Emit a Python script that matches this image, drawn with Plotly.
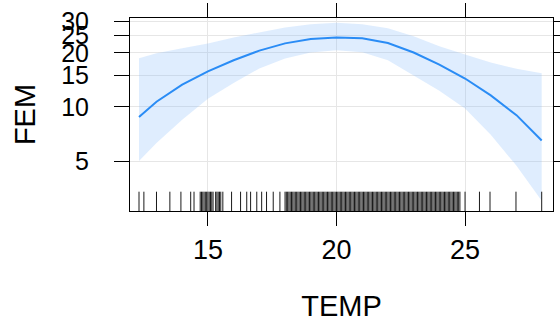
import plotly.graph_objects as go

# Effect curve (TEMP vs fitted FEM) with confidence band
temp = [12.32, 13, 14, 15, 16, 17, 18, 19, 20, 21, 22, 23, 24, 25, 26, 27, 27.98]
fit = [8.8, 10.7, 13.3, 15.8, 18.2, 20.6, 22.6, 23.9, 24.4, 24.1, 22.7, 20.1, 17.2, 14.4, 11.6, 9.0, 6.5]
lower = [5.0, 6.3, 8.5, 11.1, 13.6, 16.4, 18.6, 20.1, 20.7, 20.2, 18.2, 15.0, 12.3, 9.8, 7.0, 4.7, 3.0]
upper = [18.7, 19.9, 21.2, 22.6, 24.4, 26.1, 27.7, 28.9, 29.4, 28.9, 27.4, 24.8, 21.8, 19.6, 17.7, 16.3, 15.4]

# Observed TEMP values (rug)
rug_temp = [
    12.32, 12.51, 13.0, 13.52, 13.95, 14.33, 14.46,
    14.7, 14.75, 14.8, 14.85, 14.9, 14.95, 15.0, 15.05, 15.1, 15.15, 15.2, 15.3, 15.35, 15.4, 15.45, 15.5, 15.58,
    15.92, 16.27, 16.51, 16.66, 16.9, 17.09, 17.28, 17.54, 17.8,
    18.0, 18.05, 18.1, 18.15, 18.2, 18.25, 18.3, 18.35, 18.4, 18.45, 18.5, 18.55, 18.6, 18.65, 18.7, 18.75,
    18.8, 18.85, 18.9, 18.95, 19.0, 19.05, 19.1, 19.15, 19.2, 19.25, 19.3, 19.35, 19.4, 19.45, 19.5, 19.55,
    19.6, 19.65, 19.7, 19.75, 19.8, 19.85, 19.9, 19.95, 20.0, 20.05, 20.1, 20.15, 20.2, 20.25, 20.3, 20.35,
    20.4, 20.45, 20.5, 20.55, 20.6, 20.65, 20.7, 20.75, 20.8, 20.85, 20.9, 20.95, 21.0, 21.05, 21.1, 21.15,
    21.2, 21.25, 21.3, 21.35, 21.4, 21.45, 21.5, 21.55, 21.6, 21.65, 21.7, 21.75, 21.8, 21.85, 21.9, 21.95,
    22.0, 22.05, 22.1, 22.15, 22.2, 22.25, 22.3, 22.35, 22.4, 22.45, 22.5, 22.55, 22.6, 22.65, 22.7, 22.75,
    22.8, 22.85, 22.9, 22.95, 23.0, 23.05, 23.1, 23.15, 23.2, 23.25, 23.3, 23.35, 23.4, 23.45, 23.5, 23.55,
    23.6, 23.65, 23.7, 23.75, 23.8, 23.85, 23.9, 23.95, 24.0, 24.05, 24.1, 24.15, 24.2, 24.25, 24.3, 24.35,
    24.4, 24.45, 24.5, 24.55, 24.6, 24.65, 24.7, 24.75, 24.8,
    25.0, 25.56, 25.97, 26.98, 27.98,
]

x_ticks = [15, 20, 25]
y_ticks = [5, 10, 15, 20, 25, 30]

FONT = "Arial, Liberation Sans, sans-serif"
LINE_BLUE = "#2a8cf5"
BAND_BLUE = "rgba(130,185,250,0.26)"

fig = go.Figure()

# confidence band
fig.add_trace(go.Scatter(
    x=temp + temp[::-1], y=upper + lower[::-1],
    fill="toself", fillcolor=BAND_BLUE, line=dict(width=0),
    hoverinfo="skip", showlegend=False,
))
# fitted curve
fig.add_trace(go.Scatter(
    x=temp, y=fit, mode="lines",
    line=dict(color=LINE_BLUE, width=2),
    showlegend=False,
))
# rug
rx, ry = [], []
for t in rug_temp:
    rx += [t, t, None]
    ry += [0, 0.1, None]
fig.add_trace(go.Scatter(
    x=rx, y=ry, mode="lines", yaxis="y2",
    line=dict(color="#1a1a1a", width=1), hoverinfo="skip", showlegend=False,
))

fig.update_layout(
    width=560, height=322,
    margin=dict(l=130, r=7, t=18, b=111, autoexpand=False),
    paper_bgcolor="white", plot_bgcolor="white",
    font=dict(family=FONT, color="black"),
    xaxis=dict(
        range=[11.97, 28.42], tickvals=x_ticks, ticktext=[str(v) for v in x_ticks],
        ticks="outside", ticklen=14, tickwidth=1, tickcolor="black",
        showline=True, linecolor="black", linewidth=1, mirror="ticks",
        showgrid=True, gridcolor="#e6e6e6", gridwidth=1, zeroline=False,
        tickfont=dict(size=27, family=FONT), ticklabelstandoff=1,
        title=dict(text="TEMP", font=dict(size=29, family=FONT), standoff=31),
        automargin=False,
    ),
    yaxis=dict(
        type="log", range=[0.4205, 1.4955], tickvals=y_ticks, ticktext=[str(v) for v in y_ticks],
        ticks="outside", ticklen=15, tickwidth=1, tickcolor="black",
        showline=True, linecolor="black", linewidth=1, mirror="ticks",
        showgrid=True, gridcolor="#e6e6e6", gridwidth=1, zeroline=False,
        tickfont=dict(size=25, family=FONT), ticklabelstandoff=20,
        title=dict(text="FEM", font=dict(size=29, family=FONT), standoff=17),
        automargin=False,
    ),
    yaxis2=dict(overlaying="y", range=[0, 1], visible=False, fixedrange=True),
)

fig.write_html("out.html")
